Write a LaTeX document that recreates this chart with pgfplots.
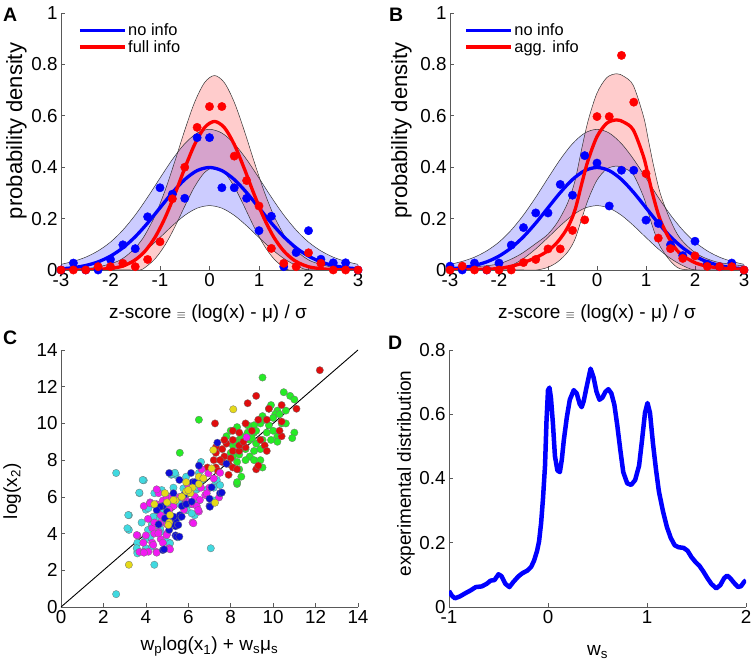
\documentclass[border=0pt]{standalone}
\usepackage{fontspec}
\setmainfont{Liberation Sans}
\usepackage{pgfplots}
\pgfplotsset{compat=1.18}
\usepgfplotslibrary{fillbetween}

\definecolor{cgreen}{rgb}{0.15,0.92,0.15}
\definecolor{cred}{rgb}{0.88,0.05,0.05}
\definecolor{ccyan}{rgb}{0.25,0.85,0.88}
\definecolor{cmag}{rgb}{0.95,0.1,0.95}
\definecolor{cblue}{rgb}{0.05,0.05,0.85}
\definecolor{cyel}{rgb}{0.9,0.85,0.1}
\definecolor{axgray}{rgb}{0.35,0.35,0.35}

\pgfplotsset{
  panel/.style={
    scale only axis, anchor=south west,
    axis lines=left, axis line style={-, color=axgray, line width=0.6pt},
    tick style={color=axgray, line width=0.6pt},
    tick align=inside, major tick length=4pt,
    tick label style={font=\fontsize{18.8}{20}\selectfont},
    label style={font=\fontsize{19}{22}\selectfont},
    /pgf/number format/assume math mode=true,
  },
  zlegend/.style={
    legend style={at={(axis description cs:#1,0.965)}, anchor=north west,
      draw=none, fill=none, font=\fontsize{16.4}{19}\selectfont,
      inner sep=0pt, row sep=0.5pt, nodes={inner sep=1.5pt}},
    legend image code/.code={\draw[##1, line width=3.6pt] (0pt,0pt) -- (45pt,0pt);},
    legend cell align=left,
  },
  dots/.style={only marks, mark=*, mark size=4.2pt, forget plot},
  cdots/.style={only marks, mark=*, mark size=3.7pt, forget plot,
    mark options={draw=black!55, line width=0.3pt}},
  edge/.style={smooth, draw=black!80, line width=0.5pt, forget plot},
}

\begin{document}
\begin{tikzpicture}

% ---------------- Panel A ----------------
\begin{axis}[panel, zlegend=0.057, at={(61pt,397pt)}, width=297pt, height=257pt,
  xmin=-3, xmax=3, ymin=0, ymax=1,
  xtick={-3,-2,-1,0,1,2,3}, ytick={0,0.2,0.4,0.6,0.8,1},
  xlabel={z-score {\fontsize{12}{12}\selectfont$\equiv$} (log(x) - μ) / σ},
  ylabel={probability density},
  xlabel style={at={(axis description cs:0.495,-0.187)}, anchor=base},
  ylabel style={at={(axis description cs:-0.131,0.541)}, anchor=base, font=\fontsize{22}{24}\selectfont},
]
% blue band
\addplot[edge, name path=bu] coordinates {
(-3,0.0220) (-2.75,0.0335) (-2.5,0.0500) (-2.25,0.0745) (-2,0.1086) (-1.75,0.1553) (-1.5,0.2141)
(-1.25,0.2831) (-1,0.3576) (-0.75,0.4301) (-0.5,0.4915) (-0.25,0.5328) (0,0.5474)
(0.25,0.5328) (0.5,0.4915) (0.75,0.4301) (1,0.3576) (1.25,0.2831) (1.5,0.2141) (1.75,0.1553)
(2,0.1086) (2.25,0.0745) (2.5,0.0500) (2.75,0.0335) (3,0.0220)};
\addplot[edge, name path=bl] coordinates {
(-3,0) (-2.5,0) (-2,0) (-1.75,0.0173) (-1.5,0.0449) (-1.25,0.0822) (-1,0.1264) (-0.75,0.1721)
(-0.5,0.2127) (-0.25,0.2406) (0,0.2505) (0.25,0.2406) (0.5,0.2127) (0.75,0.1721) (1,0.1264)
(1.25,0.0822) (1.5,0.0449) (1.75,0.0173) (2,0) (2.5,0) (3,0)};
\addplot[fill=blue, fill opacity=0.2, draw=none, forget plot] fill between[of=bu and bl];
% red band
\addplot[edge, name path=ru] coordinates {
(-3,0.0015) (-2.8,0.0023) (-2.3,0.0102) (-1.9,0.0306) (-1.7,0.0518) (-1.5,0.0859) (-1.4,0.1092)
(-1.3,0.1376) (-1.1,0.2113) (-0.9,0.3079) (-0.7,0.4228) (-0.5,0.5439) (-0.3,0.6529) (-0.1,0.7291)
(0.1,0.7567) (0.3,0.7291) (0.5,0.6529) (0.7,0.5439) (0.9,0.4228) (1.1,0.3079) (1.3,0.2113)
(1.5,0.1376) (1.6,0.1092) (1.7,0.0859) (1.9,0.0518) (2.1,0.0306) (2.5,0.0102) (3,0.0023)};
\addplot[edge, name path=rl] coordinates {
(-3,0) (-2.2,0) (-1.6,0) (-1.4,0) (-1.3,0.0100) (-1.1,0.0435) (-0.9,0.0965) (-0.7,0.1674)
(-0.5,0.2481) (-0.3,0.3243) (-0.1,0.3793) (0.1,0.3993) (0.3,0.3793) (0.5,0.3243) (0.7,0.2481)
(0.9,0.1674) (1.1,0.0965) (1.3,0.0435) (1.5,0.0100) (1.6,0) (1.8,0) (2.4,0) (3,0)};
\addplot[fill=red, fill opacity=0.2, draw=none, forget plot] fill between[of=ru and rl];
% dots
\addplot[dots, blue] coordinates {
(-3,0) (-2.75,0.027) (-2.5,0) (-2.25,0) (-2,0.041) (-1.75,0.098) (-1.5,0.083) (-1.25,0.207)
(-1,0.32) (-0.75,0.295) (-0.5,0.279) (-0.25,0.515) (0,0.515) (0.25,0.32) (0.5,0.32) (0.75,0.279)
(1,0.153) (1.25,0.209) (1.5,0.013) (1.75,0.068) (2,0.153) (2.25,0.042) (2.5,0.028) (2.75,0.028) (3,0)};
\addplot[dots, red] coordinates {
(-3,0) (-2.75,0) (-2.5,0) (-2.25,0.013) (-2,0.013) (-1.75,0.026) (-1.5,0.013) (-1.25,0.041)
(-1,0.11) (-0.75,0.277) (-0.5,0.40) (-0.25,0.555) (0,0.636) (0.25,0.636) (0.5,0.443) (0.75,0.348)
(1,0.249) (1.25,0.084) (1.5,0.026) (1.75,0.013) (2,0.067) (2.25,0.026) (2.5,0) (2.75,0) (3,0)};
% curves
\addplot[smooth, blue, line width=3.3pt] coordinates {
(-3,0.0044) (-2.75,0.0091) (-2.5,0.0175) (-2.25,0.0317) (-2,0.0540) (-1.75,0.0863) (-1.5,0.1295)
(-1.25,0.1826) (-1,0.2420) (-0.75,0.3011) (-0.5,0.3521) (-0.25,0.3867) (0,0.3989) (0.25,0.3867)
(0.5,0.3521) (0.75,0.3011) (1,0.2420) (1.25,0.1826) (1.5,0.1295) (1.75,0.0863) (2,0.0540)
(2.25,0.0317) (2.5,0.0175) (2.75,0.0091) (3,0.0044)};
\addlegendentry{no info}
\addplot[smooth, red, line width=3.3pt] coordinates {
(-3,0) (-2.5,0.0005) (-2.3,0.0014) (-1.9,0.0087) (-1.7,0.0192) (-1.5,0.0393) (-1.3,0.0738)
(-1.1,0.1274) (-0.9,0.2022) (-0.7,0.2951) (-0.5,0.3960) (-0.3,0.4886) (-0.1,0.5542) (0.1,0.578)
(0.3,0.5542) (0.5,0.4886) (0.7,0.3960) (0.9,0.2951) (1.1,0.2022) (1.3,0.1274) (1.5,0.0738)
(1.7,0.0393) (1.9,0.0192) (2.1,0.0087) (2.5,0.0014) (3,0.0001)};
\addlegendentry{full info}
\end{axis}

% ---------------- Panel B ----------------
\begin{axis}[panel, zlegend=0.048, at={(450pt,397pt)}, width=294pt, height=257pt,
  xmin=-3, xmax=3, ymin=0, ymax=1,
  xtick={-3,-2,-1,0,1,2,3}, ytick={0,0.2,0.4,0.6,0.8,1},
  xlabel={z-score {\fontsize{12}{12}\selectfont$\equiv$} (log(x) - μ) / σ},
  ylabel={probability density},
  xlabel style={at={(axis description cs:0.5,-0.187)}, anchor=base},
  ylabel style={at={(axis description cs:-0.146,0.543)}, anchor=base, font=\fontsize{22}{24}\selectfont},
]
\addplot[edge, name path=bu] coordinates {
(-3,0.0220) (-2.75,0.0335) (-2.5,0.0500) (-2.25,0.0745) (-2,0.1086) (-1.75,0.1553) (-1.5,0.2141)
(-1.25,0.2831) (-1,0.3576) (-0.75,0.4301) (-0.5,0.4915) (-0.25,0.5328) (0,0.5474)
(0.25,0.5328) (0.5,0.4915) (0.75,0.4301) (1,0.3576) (1.25,0.2831) (1.5,0.2141) (1.75,0.1553)
(2,0.1086) (2.25,0.0745) (2.5,0.0500) (2.75,0.0335) (3,0.0220)};
\addplot[edge, name path=bl] coordinates {
(-3,0) (-2.5,0) (-2,0) (-1.75,0.0173) (-1.5,0.0449) (-1.25,0.0822) (-1,0.1264) (-0.75,0.1721)
(-0.5,0.2127) (-0.25,0.2406) (0,0.2505) (0.25,0.2406) (0.5,0.2127) (0.75,0.1721) (1,0.1264)
(1.25,0.0822) (1.5,0.0449) (1.75,0.0173) (2,0) (2.5,0) (3,0)};
\addplot[fill=blue, fill opacity=0.2, draw=none, forget plot] fill between[of=bu and bl];
\addplot[edge, name path=ru] coordinates {
(-3,0.0084) (-2.5,0.0125) (-2.0,0.0242) (-1.6,0.0569) (-1.23,0.1056) (-1.0,0.1394) (-0.8,0.1879)
(-0.6,0.2605) (-0.45,0.3464) (-0.31,0.4734) (-0.18,0.5817) (0.0,0.6883) (0.2,0.7486) (0.4,0.7636)
(0.55,0.7532) (0.74,0.7185) (0.95,0.5971) (1.05,0.5046) (1.15,0.4105) (1.29,0.2988) (1.49,0.1974)
(1.69,0.1249) (2.03,0.0639) (2.44,0.0313) (3.0,0.0159)};
\addplot[edge, name path=rl] coordinates {
(-3,0) (-2.0,0) (-1.5,0) (-1.23,0) (-1.0,0.0106) (-0.8,0.0321) (-0.6,0.0695) (-0.45,0.1196)
(-0.31,0.2006) (-0.18,0.2743) (0.0,0.3497) (0.2,0.3934) (0.4,0.4044) (0.55,0.3968) (0.74,0.3715)
(0.95,0.2849) (1.05,0.2214) (1.15,0.1595) (1.29,0.0912) (1.49,0.0366) (1.69,0.0051) (2.03,0)
(2.5,0) (3.0,0)};
\addplot[fill=red, fill opacity=0.2, draw=none, forget plot] fill between[of=ru and rl];
\addplot[dots, blue] coordinates {
(-3,0.015) (-2.75,0) (-2.5,0.027) (-2.25,0) (-2,0.027) (-1.75,0.097) (-1.5,0.165) (-1.25,0.222)
(-1,0.222) (-0.75,0.333) (-0.5,0.291) (-0.25,0.445) (0,0.416) (0.25,0.249) (0.5,0.388) (0.75,0.388)
(1,0.194) (1.25,0.181) (1.5,0.098) (1.75,0.056) (2,0.112) (2.25,0.023) (2.5,0.013) (2.75,0.027) (3,0)};
\addplot[dots, red] coordinates {
(-3,0) (-2.75,0.015) (-2.5,0) (-2.25,0) (-2,0) (-1.75,0) (-1.5,0.029) (-1.25,0.041)
(-1,0.082) (-0.75,0.082) (-0.5,0.154) (-0.25,0.195) (0,0.597) (0.25,0.597) (0.5,0.835) (0.75,0.653)
(1,0.375) (1.25,0.124) (1.5,0.083) (1.75,0.045) (2,0.055) (2.25,0.014) (2.5,0.013) (2.75,0.013) (3,0)};
\addplot[smooth, blue, line width=3.3pt] coordinates {
(-3,0.0044) (-2.75,0.0091) (-2.5,0.0175) (-2.25,0.0317) (-2,0.0540) (-1.75,0.0863) (-1.5,0.1295)
(-1.25,0.1826) (-1,0.2420) (-0.75,0.3011) (-0.5,0.3521) (-0.25,0.3867) (0,0.3989) (0.25,0.3867)
(0.5,0.3521) (0.75,0.3011) (1,0.2420) (1.25,0.1826) (1.5,0.1295) (1.75,0.0863) (2,0.0540)
(2.25,0.0317) (2.5,0.0175) (2.75,0.0091) (3,0.0044)};
\addlegendentry{no info}
\addplot[smooth, red, line width=3.3pt] coordinates {
(-3,0.001) (-2.5,0.002) (-2.0,0.006) (-1.6,0.022) (-1.23,0.050) (-1.0,0.075) (-0.8,0.11)
(-0.6,0.165) (-0.45,0.233) (-0.31,0.337) (-0.18,0.428) (0.0,0.519) (0.2,0.571) (0.4,0.584)
(0.55,0.575) (0.74,0.545) (0.95,0.441) (1.05,0.363) (1.15,0.285) (1.29,0.195) (1.49,0.117)
(1.69,0.065) (2.03,0.026) (2.44,0.009) (3.0,0.003)};
\addlegendentry{agg. info}
\end{axis}

% ---------------- Panel C ----------------
\begin{axis}[panel, at={(61pt,60pt)}, width=297pt, height=257pt,
  xmin=0, xmax=14, ymin=0, ymax=14,
  xtick={0,2,4,6,8,10,12,14}, ytick={0,2,4,6,8,10,12,14},
  xlabel={w\textsubscript{p}log(x\textsubscript{1}) + w\textsubscript{s}μ\textsubscript{s}},
  ylabel={log(x\textsubscript{2})},
  xlabel style={at={(axis description cs:0.5,-0.171)}, anchor=base},
  ylabel style={at={(axis description cs:-0.148,0.45)}, anchor=base},
]
\addplot[cdots, cgreen] coordinates {
(9.5,12.5)(10.5,11.7)(10.8,11.5)(11.0,11.3)(10.2,10.7)(10.6,10.7)(10.1,10.5)(10.0,10.3)(10.3,10.5)
(9.5,10.4)(9.8,9.9)(9.4,10.0)(9.1,9.9)(8.8,9.9)(8.0,9.6)(8.3,9.8)(9.1,9.5)(9.7,9.5)(10.0,9.6)
(10.2,9.3)(11.0,9.5)(10.9,9.2)(10.2,9.0)(9.5,9.1)(9.2,8.9)(8.9,9.1)(8.4,9.1)(8.1,8.8)(8.7,8.6)
(9.1,8.5)(9.4,8.6)(8.4,8.3)(8.1,8.2)(8.9,8.2)(8.7,8.0)(9.1,8.0)(9.4,8.0)(8.3,7.9)(8.0,8.4)
(8.4,7.5)(9.5,7.6)(8.5,7.1)(8.3,6.7)(5.6,8.4)(6.5,10.2)(8.3,6.8)(9.8,10.8)(9.9,11.0)(9.2,9.6)
(8.8,9.5)(10.4,10.0)(9.6,10.2)(8.5,9.3)(9.0,9.2)(9.9,9.1)(10.6,10.0)(7.8,9.3)(8.2,9.0)};
\addplot[cdots, cred] coordinates {
(12.2,12.9)(11.1,10.8)(10.4,11.0)(10.4,10.1)(9.2,11.5)(8.8,11.1)(9.8,10.8)(9.7,10.2)(9.3,10.2)
(7.26,10.0)(8.1,9.6)(8.4,9.5)(9.0,9.6)(9.4,9.1)(8.1,9.1)(7.8,8.9)(7.3,8.7)(7.6,8.6)(8.1,8.5)
(8.4,8.5)(8.7,8.7)(7.3,8.4)(7.7,8.2)(8.0,8.1)(7.2,8.0)(7.6,7.9)(6.9,7.6)(7.3,7.6)(7.9,7.8)
(8.1,7.6)(7.9,7.2)(7.4,7.4)(8.4,8.8)(9.6,8.8)(9.7,8.5)(9.2,7.5)(10.4,9.3)(10.3,9.6)(8.3,7.5)
(8.7,10.0)(9.3,7.7)(7.5,8.0)(8.6,9.0)(7.7,9.1)};
\addplot[cdots, ccyan] coordinates {
(2.6,0.7)(2.6,7.3)(3.9,6.9)(3.7,6.2)(3.2,5.0)(3.2,4.2)(3.6,3.5)(3.6,3.0)(4.0,3.2)(4.4,2.3)
(4.3,3.3)(4.1,4.2)(4.3,4.5)(4.5,4.9)(4.6,5.4)(4.3,5.6)(4.4,6.2)(5.0,5.5)(5.1,6.0)(5.3,6.5)
(5.4,7.2)(5.9,6.5)(5.9,7.1)(6.6,7.9)(6.5,7.3)(5.6,4.9)(6.1,5.6)(6.5,5.8)(7.2,5.8)(7.3,6.8)
(7.2,6.5)(5.5,3.8)(5.1,3.5)(7.06,3.2)(6.9,6.4)(6.4,6.4)(4.8,4.6)(4.2,3.8)(5.3,4.9)(5.9,5.3)
(6.5,6.5)(4.9,5.8)(3.8,4.6)(4.0,5.3)(5.2,7.2)(6.3,5.0)(5.6,5.6)(4.7,4.1)
(3.85,6.92)(3.69,6.23)(3.17,5.01)(3.13,4.29)(3.57,3.2)(3.6,2.92)(4.12,5.38)(4.35,4.92)
(4.28,4.47)(4.67,4.29)(4.75,6.37)(5.22,7.24)(5.37,7.31)(5.77,6.46)(5.93,6.19)(6.63,6.92)
(7.34,6.92)(7.5,6.64)(4.98,3.56)(5.14,3.47)(3.96,3.65)(4.82,5.28)(5.06,5.65)(5.93,5.28)(6.16,5.1)};
\addplot[cdots, cmag] coordinates {
(3.6,3.9)(4.0,3.9)(3.7,3.0)(3.9,3.0)(4.5,3.0)(4.3,3.5)(4.7,3.7)(4.8,3.5)(5.1,3.2)(4.6,4.1)
(4.3,4.3)(4.4,4.6)(5.0,4.5)(4.7,5.0)(4.8,5.8)(4.6,6.2)(4.5,5.6)(3.9,5.5)(4.2,5.7)(5.3,5.5)
(5.6,6.0)(5.9,5.8)(6.2,5.6)(6.4,5.5)(6.5,5.2)(6.6,6.5)(6.8,6.1)(6.2,4.6)(5.8,6.0)(7.0,6.5)
(7.2,7.0)(5.8,5.3)(5.1,5.3)(8.75,9.24)(4.1,4.8)(5.0,4.0)(6.0,6.6)(4.4,4.0)
(3.57,3.92)(3.88,3.5)(4.35,3.38)(4.59,4.01)(4.98,3.92)(4.12,3.01)(3.91,2.96)(4.51,2.96)
(5.14,3.14)(4.67,4.56)(4.2,5.65)(4.51,6.41)(4.98,5.92)(5.22,6.01)(6.32,6.01)(6.55,5.83)
(6.87,6.19)(7.45,5.97)(6.47,5.28)(6.24,4.56)(6.63,7.5)(6.95,7.28)(7.5,7.31)};
\addplot[cdots, cblue] coordinates {
(4.8,3.1)(5.0,5.2)(5.1,4.9)(5.4,4.4)(5.4,4.7)(5.4,3.9)(5.1,7.3)(5.3,6.2)(4.6,4.5)(5.7,5.5)
(5.8,6.1)(6.13,7.3)(6.2,6.8)(5.9,5.6)(6.5,6.9)(7.0,5.5)(7.0,5.9)(7.5,6.2)(7.37,8.95)(7.8,7.8)
(6.5,7.7)(5.1,4.2)(4.8,5.5)(5.6,5.0)(6.3,6.8)(5.2,4.5)
(4.67,5.46)(4.51,5.28)(4.90,4.83)(5.30,4.92)(5.53,4.47)(5.45,3.83)(5.69,4.92)(6.16,5.74)
(7.02,5.46)(7.58,6.23)(7.1,6.52)(4.86,3.14)(5.58,3.83)(5.58,6.92)};
\addplot[cdots, cyel] coordinates {
(3.2,2.3)(8.12,10.77)(7.18,8.55)(7.1,7.55)(7.26,5.68)(6.5,7.1)(6.2,6.5)(5.9,6.3)(5.4,5.8)(5.0,5.7)
(4.9,6.2)(4.4,5.6)(5.1,4.6)(5.7,6.0)(6.1,6.2)(6.5,6.7)(5.9,6.8)
(6.0,6.37)(5.69,6.01)(5.3,5.83)(5.14,5.01)(5.06,4.47)(6.71,7.01)};
\addplot[black, line width=0.9pt, forget plot] coordinates {(0,0) (14,14)};
\end{axis}

% ---------------- Panel D ----------------
\begin{axis}[panel, at={(449pt,60pt)}, width=297pt, height=257pt,
  xmin=-1, xmax=2, ymin=0, ymax=0.8,
  xtick={-1,0,1,2}, ytick={0,0.2,0.4,0.6,0.8},
  xlabel={w\textsubscript{s}},
  ylabel={experimental distribution},
  xlabel style={at={(axis description cs:0.5,-0.19)}, anchor=base},
  ylabel style={at={(axis description cs:-0.128,0.52)}, anchor=base},
]
\addplot[blue, line width=4.5pt, line join=round, forget plot] coordinates {
(-1.00,0.050) (-0.97,0.035) (-0.94,0.027) (-0.89,0.033) (-0.84,0.042) (-0.78,0.052) (-0.73,0.062)
(-0.67,0.064) (-0.62,0.072) (-0.58,0.082) (-0.54,0.084) (-0.50,0.102) (-0.47,0.096) (-0.43,0.072)
(-0.39,0.062) (-0.35,0.078) (-0.30,0.095) (-0.26,0.105) (-0.21,0.113) (-0.17,0.125) (-0.14,0.145)
(-0.11,0.175) (-0.09,0.205) (-0.07,0.26) (-0.05,0.34) (-0.03,0.44) (-0.015,0.58) (0.00,0.675)
(0.015,0.683) (0.03,0.65) (0.05,0.57) (0.07,0.47) (0.095,0.425) (0.12,0.42) (0.14,0.46)
(0.16,0.52) (0.19,0.59) (0.22,0.645) (0.26,0.675) (0.29,0.665) (0.32,0.632) (0.34,0.622)
(0.36,0.64) (0.39,0.685) (0.43,0.742) (0.46,0.715) (0.49,0.67) (0.52,0.645) (0.55,0.652)
(0.58,0.670) (0.61,0.678) (0.64,0.665) (0.67,0.63) (0.70,0.565) (0.73,0.49) (0.76,0.42)
(0.80,0.385) (0.84,0.38) (0.88,0.395) (0.92,0.44) (0.95,0.52) (0.98,0.605) (1.005,0.635)
(1.03,0.605) (1.06,0.51) (1.09,0.43) (1.12,0.36) (1.16,0.30) (1.20,0.25) (1.24,0.215)
(1.28,0.192) (1.32,0.186) (1.37,0.184) (1.41,0.175) (1.45,0.155) (1.49,0.14) (1.53,0.128)
(1.57,0.11) (1.61,0.09) (1.65,0.072) (1.70,0.058) (1.74,0.068) (1.78,0.09) (1.81,0.098)
(1.84,0.09) (1.88,0.075) (1.92,0.062) (1.95,0.065) (1.98,0.078) (2.00,0.083)};
\end{axis}

% panel letters
\node[anchor=base west, font=\bfseries\fontsize{19.5}{20}\selectfont, inner sep=0pt] at (3pt,645pt) {A};
\node[anchor=base west, font=\bfseries\fontsize{19.5}{20}\selectfont, inner sep=0pt] at (389pt,645pt) {B};
\node[anchor=base west, font=\bfseries\fontsize{19.5}{20}\selectfont, inner sep=0pt] at (3pt,322pt) {C};
\node[anchor=base west, font=\bfseries\fontsize{19.5}{20}\selectfont, inner sep=0pt] at (388pt,317pt) {D};
\pgfresetboundingbox
\path[use as bounding box] (0,0) rectangle (753pt,667pt);
\end{tikzpicture}
\end{document}
